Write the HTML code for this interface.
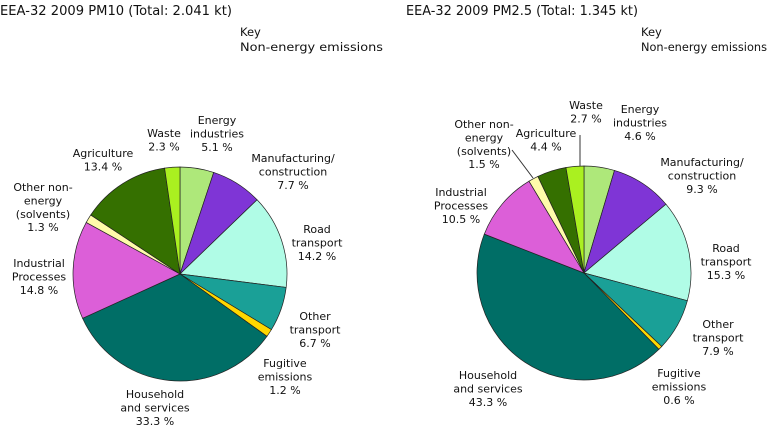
<!DOCTYPE html>
<html><head><meta charset="utf-8"><style>
html,body{margin:0;padding:0;background:#fff;}
svg{display:block;font-family:"DejaVu Sans","Liberation Sans",sans-serif;}
text{fill:#111;}
.l{font-size:11px;text-anchor:middle;}
</style></head><body>
<svg id="s" width="768" height="427" viewBox="0 0 768 427" xmlns="http://www.w3.org/2000/svg">
<text x="0" y="15" font-size="13" textLength="232" lengthAdjust="spacingAndGlyphs">EEA-32 2009 PM10 (Total: 2.041 kt)</text>
<text x="240" y="36" font-size="11.5">Key</text>
<text x="240" y="51" font-size="11.5" textLength="143" lengthAdjust="spacingAndGlyphs">Non-energy emissions</text>
<text x="406" y="15" font-size="13" textLength="232" lengthAdjust="spacingAndGlyphs">EEA-32 2009 PM2.5 (Total: 1.345 kt)</text>
<text x="641" y="36" font-size="11.5">Key</text>
<text x="641" y="51" font-size="11.5" textLength="126" lengthAdjust="spacingAndGlyphs">Non-energy emissions</text>
<g id="p1"></g><g id="p2"></g>
<line x1="580" y1="135" x2="580" y2="166" stroke="#333" stroke-width="1"/>
<line x1="512" y1="150" x2="533" y2="178" stroke="#333" stroke-width="1"/>
</svg>
<script>
var C=["#aee87a","#7f35d6","#b0fce6","#1aa097","#ffd700","#006e66","#dc5fd8","#fffcaa","#357000","#aaf020"];
function pie(id,cx,cy,r,v){
 var g=document.getElementById(id),a=0,h="",t=v.reduce(function(x,y){return x+y},0);
 v.forEach(function(p,i){
  var b=a+p/t*2*Math.PI;
  var x1=cx+r*Math.sin(a),y1=cy-r*Math.cos(a),x2=cx+r*Math.sin(b),y2=cy-r*Math.cos(b);
  h+='<path d="M'+cx+','+cy+'L'+x1.toFixed(2)+','+y1.toFixed(2)+'A'+r+','+r+' 0 '+((b-a)>Math.PI?1:0)+' 1 '+x2.toFixed(2)+','+y2.toFixed(2)+'Z" fill="'+C[i]+'" stroke="#222" stroke-width="0.7"/>';
  a=b;});
 g.innerHTML=h;}
pie("p1",180,274,107,[5.1,7.7,14.2,6.7,1.2,33.3,14.8,1.3,13.4,2.3]);
pie("p2",584,273,107,[4.6,9.3,15.3,7.9,0.6,43.3,10.5,1.5,4.4,2.7]);
var L=[
[217,124,["Energy","industries","5.1 %"]],
[164,137,["Waste","2.3 %"]],
[103,157,["Agriculture","13.4 %"]],
[293,162,["Manufacturing/","construction","7.7 %"]],
[43,191,["Other non-","energy","(solvents)","1.3 %"]],
[39,267,["Industrial","Processes","14.8 %"]],
[317,233,["Road","transport","14.2 %"]],
[315,320,["Other","transport","6.7 %"]],
[285,367,["Fugitive","emissions","1.2 %"]],
[155,398,["Household","and services","33.3 %"]],
[586,109,["Waste","2.7 %"]],
[640,113,["Energy","industries","4.6 %"]],
[546,137,["Agriculture","4.4 %"]],
[484,128,["Other non-","energy","(solvents)","1.5 %"]],
[702,166,["Manufacturing/","construction","9.3 %"]],
[461,196,["Industrial","Processes","10.5 %"]],
[726,252,["Road","transport","15.3 %"]],
[718,328,["Other","transport","7.9 %"]],
[679,377,["Fugitive","emissions","0.6 %"]],
[488,379,["Household","and services","43.3 %"]]];
var s=document.getElementById("s"),h="";
L.forEach(function(l){l[2].forEach(function(t,i){h+='<text class="l" x="'+l[0]+'" y="'+(l[1]+i*13.4)+'">'+t+'</text>';});});
s.insertAdjacentHTML("beforeend",h);
</script>
</body></html>
